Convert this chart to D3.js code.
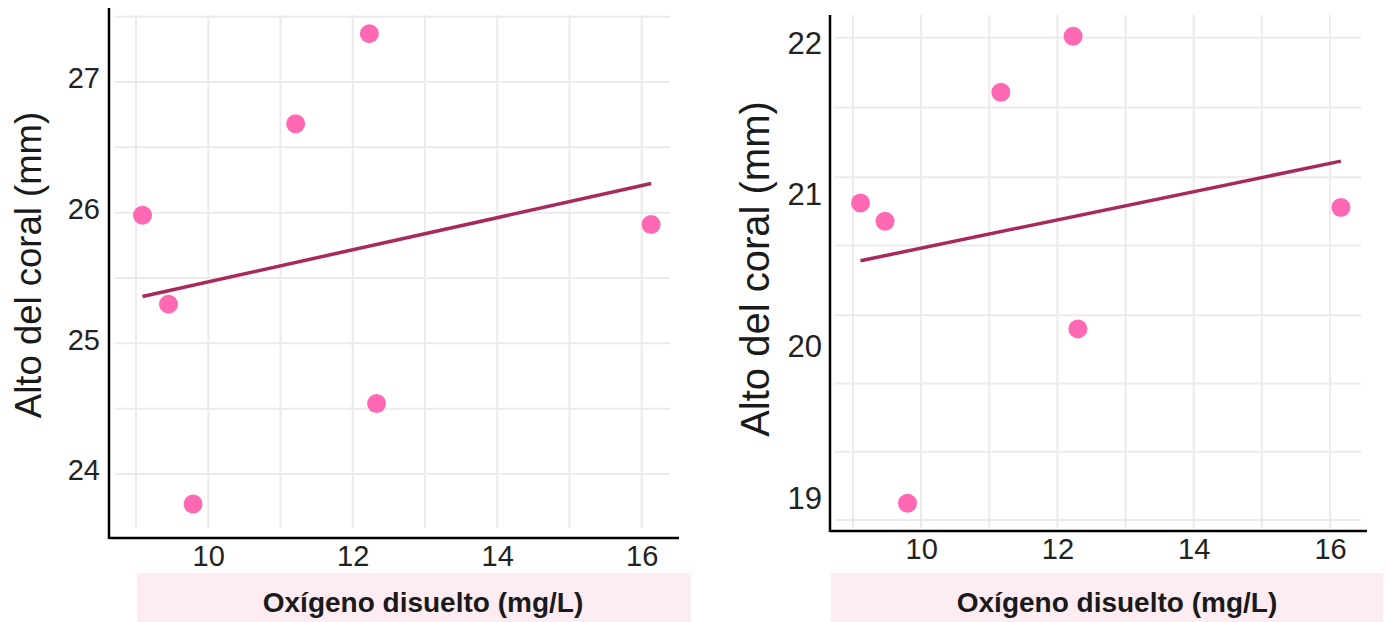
<!DOCTYPE html>
<html>
<head>
<meta charset="utf-8">
<script src="https://cdn.jsdelivr.net/npm/d3@7"></script>
<style>
  body { margin: 0; background: #fff; }
  svg { display: block; font-family: "Liberation Sans", Arial, sans-serif; }
</style>
</head>
<body>
<script>
// data
var xLabel = "Oxígeno disuelto (mg/L)";
var yLabel = "Alto del coral (mm)";

var leftOxygen = [9.09, 9.45, 9.79, 11.21, 12.23, 12.33, 16.13];
var leftHeight = [25.98, 25.30, 23.77, 26.68, 27.37, 24.54, 25.91];
var leftXTicks = [10, 12, 14, 16];
var leftYTicks = [24, 25, 26, 27];
var leftXGrid = [9, 10, 11, 12, 13, 14, 15, 16];
var leftYGrid = [24, 24.5, 25, 25.5, 26, 26.5, 27, 27.5];

var rightOxygen = [9.11, 9.47, 11.17, 12.23, 12.30, 9.80, 16.16];
var rightHeight = [20.97, 20.85, 21.70, 22.07, 20.14, 18.99, 20.94];
var rightXTicks = [10, 12, 14, 16];
var rightYTicks = [19, 20, 21, 22];
var rightXGrid = [9, 10, 11, 12, 13, 14, 15, 16];
var rightYGrid = [22.06, 21.6, 21.14, 20.69, 20.23, 19.78, 19.33, 18.88];

var W = 1389, H = 622;
var svg = d3.select("body").append("svg").attr("width", W).attr("height", H);

// least squares fit, like geom_smooth(method = "lm")
function fit(xs, ys) {
  var mx = d3.mean(xs), my = d3.mean(ys);
  var sxy = d3.sum(xs, function(x, i) { return (x - mx) * (ys[i] - my); });
  var sxx = d3.sum(xs, function(x) { return (x - mx) * (x - mx); });
  var b = sxy / sxx;
  return function(x) { return my + b * (x - mx); };
}

function panel(p) {
  var g = svg.append("g");
  var x = d3.scaleLinear().domain([9, 16]).range(p.xRange);
  var y = d3.scaleLinear().domain(p.yDomain).range(p.yRange);

  // pink box behind the x title
  g.append("rect")
    .attr("x", p.box[0]).attr("y", 573)
    .attr("width", p.box[1] - p.box[0]).attr("height", H - 573)
    .attr("fill", "#fdecf1");

  // grid
  g.selectAll(".gx").data(p.xGrid).enter().append("line")
    .attr("x1", function(d) { return x(d); }).attr("x2", function(d) { return x(d); })
    .attr("y1", 15).attr("y2", 528)
    .attr("stroke", "#ebebeb").attr("stroke-width", 2);
  g.selectAll(".gy").data(p.yGrid).enter().append("line")
    .attr("x1", p.gridX[0]).attr("x2", p.gridX[1])
    .attr("y1", function(d) { return y(d); }).attr("y2", function(d) { return y(d); })
    .attr("stroke", "#ebebeb").attr("stroke-width", 2);

  // axes lines
  g.append("line")
    .attr("x1", p.axisX).attr("x2", p.axisX)
    .attr("y1", p.axisTop).attr("y2", p.axisY + 1)
    .attr("stroke", "#000").attr("stroke-width", 2.5);
  g.append("line")
    .attr("x1", p.axisX).attr("x2", p.axisEnd)
    .attr("y1", p.axisY).attr("y2", p.axisY)
    .attr("stroke", "#000").attr("stroke-width", 2.5);

  // tick labels
  var ax = g.append("g")
    .attr("transform", "translate(0," + (p.axisY + 7) + ")")
    .call(d3.axisBottom(x).tickValues(p.xTicks).tickFormat(d3.format("d")).tickSize(0).tickPadding(0));
  ax.select(".domain").remove();
  ax.selectAll("text").attr("font-size", 29).attr("fill", "#222")
    .attr("font-family", "Liberation Sans, Arial, sans-serif");

  var ay = g.append("g")
    .attr("transform", "translate(" + p.tickRight + ",0)")
    .call(d3.axisLeft(y).tickValues(p.yTicks).tickFormat(d3.format("d")).tickSize(0).tickPadding(0));
  ay.select(".domain").remove();
  ay.selectAll("text").attr("font-size", p.yTickSize).attr("fill", "#222")
    .attr("dy", "0.2em")
    .attr("font-family", "Liberation Sans, Arial, sans-serif");

  // regression line
  var f = fit(p.xs, p.ys);
  var ext = d3.extent(p.xs);
  g.append("line")
    .attr("x1", x(ext[0])).attr("y1", y(f(ext[0])))
    .attr("x2", x(ext[1])).attr("y2", y(f(ext[1])))
    .attr("stroke", "#a82a5c").attr("stroke-width", 3.5);

  // points
  g.selectAll(".pt").data(p.xs).enter().append("circle")
    .attr("cx", function(d) { return x(d); })
    .attr("cy", function(d, i) { return y(p.ys[i]); })
    .attr("r", 9.5)
    .attr("fill", "#ff69b4");

  // titles
  g.append("text")
    .attr("x", p.titleX).attr("y", 602)
    .attr("text-anchor", "middle").attr("dominant-baseline", "central")
    .attr("font-size", 28).attr("font-weight", "bold").attr("fill", "#1a1a1a")
    .text(xLabel);
  g.append("text")
    .attr("transform", "translate(" + p.yTitle[0] + "," + p.yTitle[1] + ") rotate(-90)")
    .attr("text-anchor", "middle").attr("dominant-baseline", "central")
    .attr("font-size", p.yTitleSize).attr("fill", "#1a1a1a")
    .text(yLabel);
}

panel({
  xs: leftOxygen, ys: leftHeight,
  xTicks: leftXTicks, yTicks: leftYTicks, xGrid: leftXGrid, yGrid: leftYGrid,
  xRange: [136, 641.7], yDomain: [24, 27], yRange: [474, 82],
  gridX: [115, 670], axisX: 109, axisTop: 8, axisY: 538, axisEnd: 679,
  tickRight: 100, yTickSize: 29,
  box: [137, 691], titleX: 423,
  yTitle: [28, 265], yTitleSize: 36.5
});

panel({
  xs: rightOxygen, ys: rightHeight,
  xTicks: rightXTicks, yTicks: rightYTicks, xGrid: rightXGrid, yGrid: rightYGrid,
  xRange: [853, 1330], yDomain: [19, 22], yRange: [501.8, 46.8],
  gridX: [835, 1361], axisX: 830, axisTop: 15, axisY: 531, axisEnd: 1367,
  tickRight: 822, yTickSize: 31,
  box: [831, 1383], titleX: 1117,
  yTitle: [755, 269], yTitleSize: 40
});
</script>
</body>
</html>
